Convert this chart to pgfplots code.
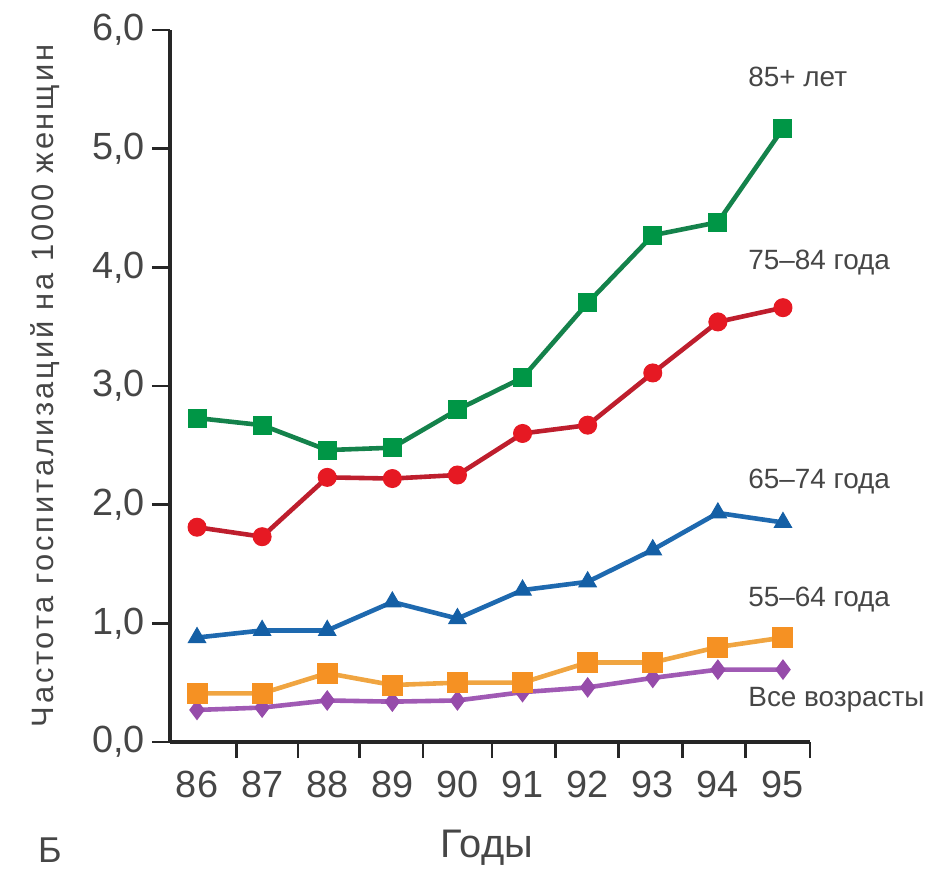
\documentclass[border=0pt]{standalone}
\usepackage{fontspec}
\setmainfont{Liberation Sans}
\newfontfamily\labelfont[LetterSpace=9]{Liberation Sans}
\usepackage{pgfplots}
\pgfplotsset{compat=1.18}
\definecolor{gm}{RGB}{0,150,70}
\definecolor{gl}{RGB}{20,130,75}
\definecolor{rm}{RGB}{230,25,35}
\definecolor{rl}{RGB}{190,30,45}
\definecolor{bm}{RGB}{20,95,165}
\definecolor{bl}{RGB}{30,105,175}
\definecolor{om}{RGB}{245,145,35}
\definecolor{ol}{RGB}{240,165,65}
\definecolor{pm}{RGB}{150,75,170}
\definecolor{pl}{RGB}{160,90,180}
\definecolor{txt}{RGB}{70,70,70}
\begin{document}
\begin{tikzpicture}
\path[use as bounding box] (-85bp,-65bp) rectangle (381bp,371bp);
\begin{axis}[
  scale only axis, width=320bp, height=356bp,
  at={(0,0)}, anchor=south west,
  xmin=85.585, xmax=95.415, ymin=0, ymax=6,
  axis x line*=bottom, axis y line*=left,
  axis line style={line width=1.8bp, color=black!85},
  xtick={86,87,88,89,90,91,92,93,94,95},
  xticklabels={86,87,88,89,90,91,92,93,94,95},
  every major x tick/.append style={draw=none},
  minor xtick={86.61,87.55,88.50,89.47,90.53,91.50,92.47,93.46,94.43,95.415},
  ytick={0,1,2,3,4,5,6},
  yticklabels={{0,0},{1,0},{2,0},{3,0},{4,0},{5,0},{6,0}},
  tick align=outside, major tick length=9bp, minor tick length=8bp,
  tick style={line width=1.4bp, color=black!85},
  ticklabel style={font=\fontsize{19}{22}\selectfont, text=txt},
  xticklabel style={yshift=-2bp},
  clip=false,
]
\addplot[color=pl, line width=2.3bp, mark=diamond*, mark size=4.8bp, mark options={fill=pm, draw=pm, line width=0.5bp}] coordinates {
(86,0.27) (87,0.29) (88,0.35) (89,0.34) (90,0.35) (91,0.42) (92,0.46) (93,0.54) (94,0.61) (95,0.61)};
\addplot[color=ol, line width=2.3bp, mark=square*, mark size=5bp, mark options={fill=om, draw=om, line width=0.5bp}] coordinates {
(86,0.41) (87,0.41) (88,0.58) (89,0.48) (90,0.50) (91,0.50) (92,0.67) (93,0.67) (94,0.80) (95,0.88)};
\addplot[color=bl, line width=2.3bp, mark=triangle*, mark size=5bp, mark options={fill=bm, draw=bm, line width=0.5bp}] coordinates {
(86,0.88) (87,0.94) (88,0.94) (89,1.18) (90,1.04) (91,1.28) (92,1.35) (93,1.62) (94,1.93) (95,1.85)};
\addplot[color=rl, line width=2.3bp, mark=*, mark size=4.5bp, mark options={fill=rm, draw=rm, line width=0.5bp}] coordinates {
(86,1.81) (87,1.73) (88,2.23) (89,2.22) (90,2.25) (91,2.60) (92,2.67) (93,3.11) (94,3.54) (95,3.66)};
\addplot[color=gl, line width=2.3bp, mark=square*, mark size=4.5bp, mark options={fill=gm, draw=gm, line width=0.5bp}] coordinates {
(86,2.73) (87,2.67) (88,2.46) (89,2.48) (90,2.80) (91,3.07) (92,3.70) (93,4.27) (94,4.38) (95,5.17)};
\end{axis}
\begin{scope}[every node/.style={anchor=west, inner sep=0pt, text=txt, font=\fontsize{14}{16}\selectfont}]
\node at (289bp,332.5bp) {85+ лет};
\node at (289bp,239.5bp) {75–84 года};
\node at (289bp,130bp) {65–74 года};
\node at (289bp,71bp) {55–64 года};
\node at (289bp,21bp) {Все возрасты};
\end{scope}
\node[rotate=90, text=txt, font=\labelfont\fontsize{15.5}{18}\selectfont] at (-62.5bp,178bp) {Частота госпитализаций на 1000 женщин};
\node[text=txt, font=\fontsize{20}{24}\selectfont] at (158.5bp,-53bp) {Годы};
\node[text=txt, font=\fontsize{18}{22}\selectfont] at (-60bp,-54bp) {Б};
\end{tikzpicture}
\end{document}
